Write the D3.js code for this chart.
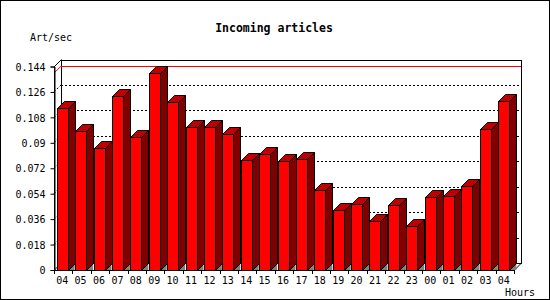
<!DOCTYPE html>
<html><head><meta charset="utf-8">
<script src="https://cdn.jsdelivr.net/npm/d3@7"></script>
<style>body{margin:0;background:#fff}svg{display:block}text{font-family:"DejaVu Sans Mono",monospace}</style>
</head><body>
<script>
// ---- data ----
const hours = ["04","05","06","07","08","09","10","11","12","13","14","15","16","17","18","19","20","21","22","23","00","01","02","03","04"];
const artPerSec = [0.1144,0.0984,0.0861,0.1231,0.0939,0.1393,0.1187,0.1010,0.1010,0.0960,0.0776,0.0819,0.0769,0.0783,0.0565,0.0422,0.0465,0.0345,0.0458,0.0309,0.0514,0.0521,0.0592,0.0996,0.1194];
const yTicks = [0,0.018,0.036,0.054,0.072,0.09,0.108,0.126,0.144];
const yTickLabels = ["0","0.018","0.036","0.054","0.072","0.09","0.108","0.126","0.144"];
const chartTitle = "Incoming articles";
const yTitle = "Art/sec";
const xTitle = "Hours";

// ---- layout ----
const W = 550, H = 300;
const D = 7;              // 3D depth offset
const pLeft = 54, pRight = 514, pBottom = 270, pTop = 66.5;
const svg = d3.select("body").append("svg").attr("width", W).attr("height", H);

svg.append("rect").attr("x",0.5).attr("y",0.5).attr("width",W-1).attr("height",H-1)
  .attr("fill","#fff").attr("stroke","#000");

const idx = d3.range(hours.length);
const x = d3.scaleBand().domain(idx).range([pLeft, pRight]).paddingInner(0).paddingOuter(0);
const y = d3.scaleLinear().domain([0, 0.144]).range([pBottom, pTop]);
const bw = 11, boff = 2.7;

const g = svg.append("g");

// back wall
g.append("rect").attr("x", pLeft + D + 0.5).attr("y", Math.round(y(0.144) - D) + 0.5)
  .attr("width", pRight - pLeft).attr("height", Math.round(pBottom - D) - Math.round(y(0.144) - D))
  .attr("fill", "#fff").attr("stroke", "#000");

// dashed gridlines on back wall
const grid = yTicks.filter(t => t > 0 && t < 0.144);
g.selectAll(".grid").data(grid).join("line")
  .attr("x1", pLeft + D).attr("x2", pRight + D)
  .attr("y1", d => Math.round(y(d) - D) + 0.5).attr("y2", d => Math.round(y(d) - D) + 0.5)
  .attr("stroke", "#000").attr("stroke-dasharray", "2,2");
g.selectAll(".gridl").data(grid).join("line")
  .attr("x1", pLeft).attr("x2", pLeft + D)
  .attr("y1", d => y(d)).attr("y2", d => y(d) - D)
  .attr("stroke", "#000").attr("stroke-dasharray", "2,2");

// max line (red)
const vmax = d3.max(artPerSec);
g.append("line").attr("x1", pLeft + D).attr("x2", pRight + D)
  .attr("y1", Math.round(y(vmax) - D) + 0.5).attr("y2", Math.round(y(vmax) - D) + 0.5)
  .attr("stroke", "#f00");
g.append("line").attr("x1", pLeft).attr("x2", pLeft + D)
  .attr("y1", y(vmax)).attr("y2", y(vmax) - D).attr("stroke", "#f00");

// left wall outline
g.append("path").attr("d", `M${pLeft+0.5},${pBottom} L${pLeft+0.5},${y(0.144)} L${pLeft+D+0.5},${y(0.144)-D}`)
  .attr("fill","none").attr("stroke","#000");

// floor
g.append("path").attr("d", `M${pLeft},${pBottom+0.5} L${pLeft+D},${pBottom-D+0.5} L${pRight+D},${pBottom-D+0.5} L${pRight},${pBottom+0.5} Z`)
  .attr("fill","#fff").attr("stroke","#000");

// bars
const bars = g.selectAll(".bar").data(idx).join("g");
bars.append("path").attr("fill", "#808080")
  .attr("d", i => { const xr = x(i) + boff + bw; return `M${xr},${pBottom} L${xr+D},${pBottom-D} L${xr+D},${pBottom} Z`; });
bars.append("path").attr("fill", "#800000").attr("stroke", "#000").attr("stroke-linejoin","round")
  .attr("d", i => { const xr = Math.round(x(i) + boff + bw) + 0.5, yt = Math.round(y(artPerSec[i])) + 0.5;
    return `M${xr},${yt} L${xr+D},${yt-D} L${xr+D},${pBottom-D+0.5} L${xr},${pBottom+0.5} Z`; });
bars.append("path").attr("fill", "#c00000").attr("stroke", "#000").attr("stroke-linejoin","round")
  .attr("d", i => { const x0 = Math.round(x(i) + boff) + 0.5, xr = Math.round(x(i) + boff + bw) + 0.5, yt = Math.round(y(artPerSec[i])) + 0.5;
    return `M${x0},${yt} L${x0+D},${yt-D} L${xr+D},${yt-D} L${xr},${yt} Z`; });
bars.append("rect").attr("fill", "#f00").attr("stroke", "#000")
  .attr("x", i => Math.round(x(i) + boff) + 0.5)
  .attr("y", i => Math.round(y(artPerSec[i])) + 0.5)
  .attr("width", i => Math.round(x(i) + boff + bw) - Math.round(x(i) + boff))
  .attr("height", i => pBottom - Math.round(y(artPerSec[i])));

// y axis
const yAxis = d3.axisLeft(y).tickValues(yTicks).tickSize(4).tickPadding(5)
  .tickFormat((d, i) => yTickLabels[i]);
const ya = svg.append("g").attr("transform", `translate(${pLeft+0.5},0)`).call(yAxis);
ya.select(".domain").attr("stroke", "#000");
ya.selectAll("text").attr("font-size", 10).attr("fill", "#000").attr("dy", "0.37em")
  .attr("font-family", '"DejaVu Sans Mono",monospace');
ya.selectAll("line").attr("stroke", "#000");

// x axis: boundary ticks
svg.append("g").selectAll("line").data(d3.range(hours.length + 1)).join("line")
  .attr("x1", i => Math.round(i < hours.length ? x(i) : pRight) + 0.5)
  .attr("x2", i => Math.round(i < hours.length ? x(i) : pRight) + 0.5)
  .attr("y1", pBottom).attr("y2", pBottom + 4).attr("stroke", "#000");
svg.append("g").selectAll("text").data(idx).join("text")
  .attr("x", i => x(i) + boff + bw / 2).attr("y", pBottom + 14)
  .attr("text-anchor", "middle").attr("font-size", 10).text(i => hours[i]);

// titles
svg.append("text").attr("x", 274).attr("y", 31.5).attr("text-anchor", "middle")
  .attr("font-size", 11.5).attr("font-weight", "bold").text(chartTitle);
svg.append("text").attr("x", 30).attr("y", 40.5).attr("font-size", 10).text(yTitle);
svg.append("text").attr("x", 505).attr("y", 296).attr("font-size", 10).text(xTitle);
</script>
</body></html>
